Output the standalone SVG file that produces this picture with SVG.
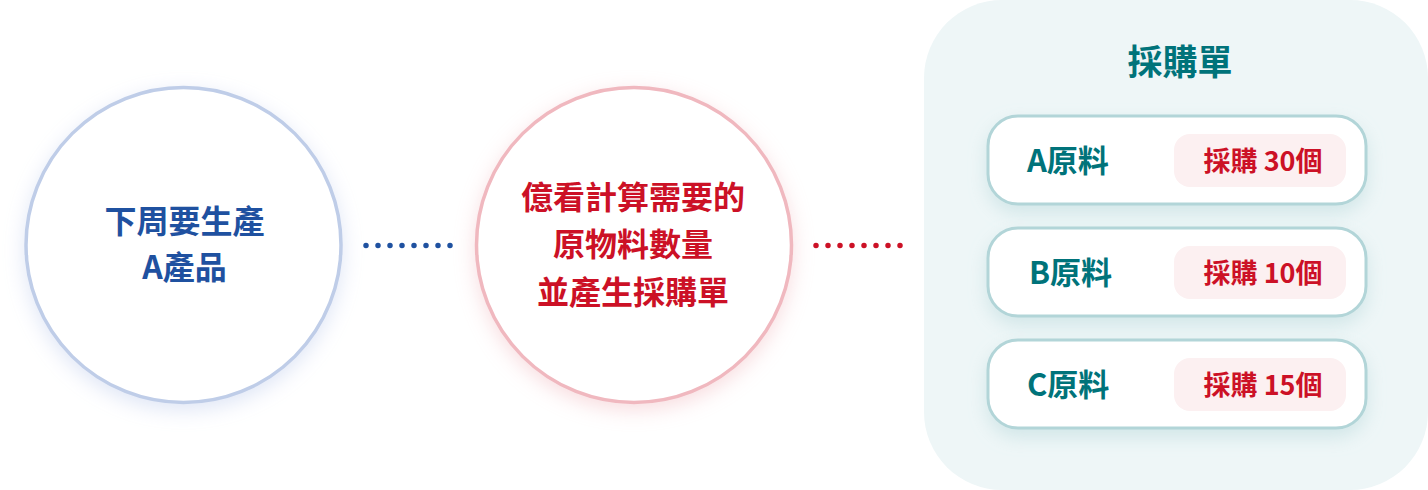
<svg xmlns="http://www.w3.org/2000/svg" width="1428" height="490" viewBox="0 0 1428 490">
  <defs>
    <filter id="shBlue" x="-30%" y="-30%" width="160%" height="160%">
      <feDropShadow dx="0" dy="6" stdDeviation="10" flood-color="#b7c6ea" flood-opacity="0.45"/>
    </filter>
    <filter id="shRed" x="-30%" y="-30%" width="160%" height="160%">
      <feDropShadow dx="0" dy="6" stdDeviation="10" flood-color="#f0b3ba" flood-opacity="0.45"/>
    </filter>
    <filter id="shCard" x="-20%" y="-40%" width="140%" height="190%">
      <feDropShadow dx="0" dy="8" stdDeviation="9" flood-color="#a9cfd2" flood-opacity="0.4"/>
    </filter>
  </defs>
  <style>
    text { font-family: "Noto Sans CJK TC", "Noto Sans CJK SC", "Noto Sans", sans-serif; font-weight: 700; }
    .blue { fill: #1f51a0; font-size: 32px; }
    .red { fill: #cc1126; font-size: 32px; }
    .title { fill: #00737a; font-size: 35px; }
    .label { fill: #00737a; font-size: 31px; }
    .qty { fill: #cc1126; font-size: 27px; }
    .card { fill: #ffffff; stroke: #b2d5d8; stroke-width: 3; }
    .pill { fill: #fcf0f1; }
  </style>
  <rect x="924" y="0" width="504" height="490" rx="78" fill="#eef6f7"/>

  <g id="connectors">
    <line x1="366" y1="245.5" x2="451" y2="245.5" stroke="#1f51a0" stroke-width="5.5" stroke-linecap="round" stroke-dasharray="0 12"/>
    <line x1="816" y1="245.5" x2="901" y2="245.5" stroke="#cc1126" stroke-width="5.5" stroke-linecap="round" stroke-dasharray="0 12"/>
  </g>

  <g id="node-product">
    <circle cx="183.5" cy="245" r="157.5" fill="#ffffff" stroke="#bfcde8" stroke-width="3.5" filter="url(#shBlue)"/>
    <text class="blue" x="184.5" y="233" text-anchor="middle">下周要生產</text>
    <text class="blue" x="184.5" y="279" text-anchor="middle">A產品</text>
  </g>

  <g id="node-calc">
    <circle cx="634" cy="245" r="157.5" fill="#ffffff" stroke="#f0b8bf" stroke-width="3.5" filter="url(#shRed)"/>
    <text class="red" x="633" y="209" text-anchor="middle">億看計算需要的</text>
    <text class="red" x="633" y="256" text-anchor="middle">原物料數量</text>
    <text class="red" x="633" y="304" text-anchor="middle">並產生採購單</text>
  </g>

  <g id="node-po">
    <text class="title" x="1180" y="75" text-anchor="middle">採購單</text>
    <g id="item-a">
      <rect class="card" x="988" y="116" width="378" height="88" rx="30" filter="url(#shCard)"/>
      <rect class="pill" x="1174" y="134" width="172" height="53" rx="16"/>
      <text class="label" x="1027" y="172">A原料</text>
      <text class="qty" x="1263" y="171" text-anchor="middle">採購 30個</text>
    </g>
    <g id="item-b">
      <rect class="card" x="988" y="228" width="378" height="88" rx="30" filter="url(#shCard)"/>
      <rect class="pill" x="1174" y="246" width="172" height="53" rx="16"/>
      <text class="label" x="1029" y="284">B原料</text>
      <text class="qty" x="1263" y="283" text-anchor="middle">採購 10個</text>
    </g>
    <g id="item-c">
      <rect class="card" x="988" y="340" width="378" height="88" rx="30" filter="url(#shCard)"/>
      <rect class="pill" x="1174" y="358" width="172" height="53" rx="16"/>
      <text class="label" x="1027" y="396">C原料</text>
      <text class="qty" x="1263" y="395" text-anchor="middle">採購 15個</text>
    </g>
  </g>
</svg>
